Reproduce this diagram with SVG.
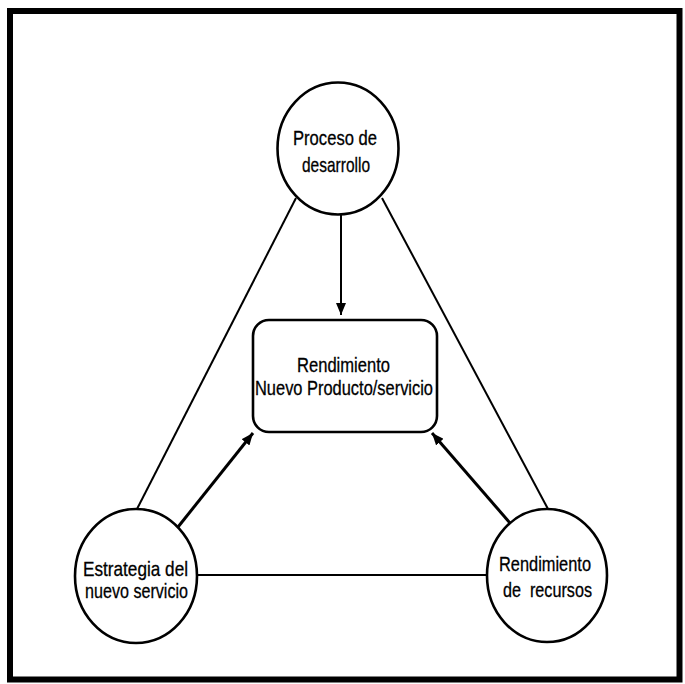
<svg xmlns="http://www.w3.org/2000/svg" width="685" height="684" viewBox="0 0 685 684">
<style>
.node{fill:#fff;stroke:#000;stroke-width:2.6}
.ln{stroke:#000;stroke-width:2;fill:none}
.ar{stroke:#000;stroke-width:3;fill:none}
.t{font-family:"Liberation Sans",Arial,sans-serif;font-size:21px;fill:#000;text-anchor:middle;stroke:#000;stroke-width:0.3}
</style>
<defs>
<marker id="ah" viewBox="0 0 12 10" refX="12" refY="5" markerWidth="12" markerHeight="10" markerUnits="userSpaceOnUse" orient="auto">
<path d="M0,0 L12,5 L0,10 Z" fill="#000"/>
</marker>
</defs>
<rect x="0" y="0" width="685" height="684" fill="#fff"/>
<rect x="10" y="11" width="669.5" height="668.5" fill="none" stroke="#000" stroke-width="6"/>
<g id="connectors">
<line class="ln" x1="296" y1="198" x2="137" y2="509"/>
<line class="ln" x1="382" y1="198" x2="548" y2="509"/>
<line class="ln" x1="197" y1="575" x2="487" y2="575"/>
<line class="ln" x1="341" y1="215" x2="341" y2="315" stroke-width="2.5" marker-end="url(#ah)"/>
<line class="ar" x1="178" y1="527" x2="253" y2="433" marker-end="url(#ah)"/>
<line class="ar" x1="510" y1="523" x2="432" y2="433" marker-end="url(#ah)"/>
</g>
<g id="proceso">
<ellipse class="node" cx="338" cy="148.5" rx="60.5" ry="66"/>
<text class="t" x="335" y="145" textLength="84" lengthAdjust="spacingAndGlyphs">Proceso de</text>
<text class="t" x="336" y="172" textLength="68" lengthAdjust="spacingAndGlyphs">desarrollo</text>
</g>
<g id="rendimiento-nuevo">
<rect class="node" x="253" y="320" width="184" height="112" rx="16"/>
<text class="t" x="343.5" y="372" textLength="93" lengthAdjust="spacingAndGlyphs">Rendimiento</text>
<text class="t" x="344" y="395" textLength="178" lengthAdjust="spacingAndGlyphs">Nuevo Producto/servicio</text>
</g>
<g id="estrategia">
<ellipse class="node" cx="136" cy="576" rx="61" ry="67"/>
<text class="t" x="135.5" y="576" textLength="105" lengthAdjust="spacingAndGlyphs">Estrategia del</text>
<text class="t" x="136.5" y="598" textLength="103" lengthAdjust="spacingAndGlyphs">nuevo servicio</text>
</g>
<g id="recursos">
<ellipse class="node" cx="547" cy="575.5" rx="60" ry="66.5"/>
<text class="t" x="545" y="571" textLength="92" lengthAdjust="spacingAndGlyphs">Rendimiento</text>
<text class="t" x="547.5" y="597" textLength="89" lengthAdjust="spacingAndGlyphs" xml:space="preserve">de  recursos</text>
</g>
</svg>
